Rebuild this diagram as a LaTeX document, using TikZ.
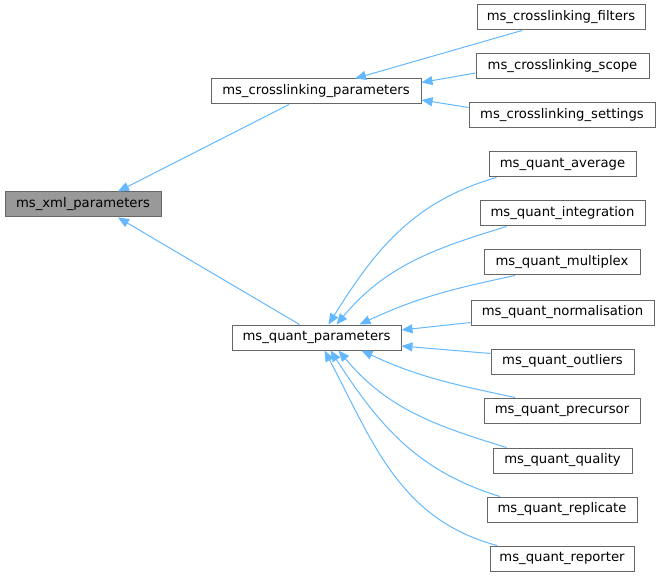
\documentclass[tikz,border=0pt]{standalone}
\usepackage{fontspec}
\setmainfont{DejaVu Sans}
\usetikzlibrary{arrows.meta}
\definecolor{edgec}{HTML}{63B8FF}
\definecolor{boxc}{HTML}{666666}
\definecolor{rootc}{HTML}{999999}
\tikzset{
  cls/.style={draw=boxc, line width=1pt, fill=white, minimum height=25pt, inner xsep=0pt, inner ysep=0pt, anchor=center, font=\fontsize{13.2}{15}\selectfont},
  rootcls/.style={cls, fill=rootc},
  edge/.style={draw=edgec, line width=1pt, -{Triangle[length=11pt,width=9pt]}}
}
\begin{document}
\begin{tikzpicture}[x=1pt,y=-1pt]
\useasboundingbox (0,0) rectangle (661,577);
\node[rootcls, minimum width=156pt] (xml) at (83,204.5) {ms\_xml\_parameters};
\node[cls, minimum width=210pt] (clp) at (316,91.5) {ms\_crosslinking\_parameters};
\node[cls, minimum width=168pt] (clf) at (561,17.5) {ms\_crosslinking\_filters};
\node[cls, minimum width=173pt] (cls) at (562.5,66.5) {ms\_crosslinking\_scope};
\node[cls, minimum width=186pt] (clset) at (562,115.5) {ms\_crosslinking\_settings};
\node[cls, minimum width=169pt] (qp) at (316.5,337.5) {ms\_quant\_parameters};
\node[cls, minimum width=147pt] (qavg) at (562.5,164.5) {ms\_quant\_average};
\node[cls, minimum width=165pt] (qint) at (562.5,213.5) {ms\_quant\_integration};
\node[cls, minimum width=156pt] (qmux) at (562,262.5) {ms\_quant\_multiplex};
\node[cls, minimum width=183pt] (qnorm) at (562.5,312.5) {ms\_quant\_normalisation};
\node[cls, minimum width=143pt] (qout) at (562.5,361.5) {ms\_quant\_outliers};
\node[cls, minimum width=156pt] (qpre) at (562,410.5) {ms\_quant\_precursor};
\node[cls, minimum width=139pt] (qqual) at (562.5,460.5) {ms\_quant\_quality};
\node[cls, minimum width=150pt] (qrep) at (562,509.5) {ms\_quant\_replicate};
\node[cls, minimum width=144pt] (qrpt) at (562,558.5) {ms\_quant\_reporter};
% crosslinking edges
\draw[edge] ([xshift=-27pt]clp.south) -- ([xshift=35pt]xml.north);
\draw[edge] ([xshift=-17pt]qp.north) -- ([xshift=35pt]xml.south);
\draw[edge] ([xshift=-39pt]clf.south) -- ([xshift=39pt]clp.north);
\draw[edge] ([yshift=-6.5pt]cls.west) -- ([yshift=9pt]clp.east);
\draw[edge] ([yshift=8pt]clset.west) -- ([yshift=-8.5pt]clp.east);
% quant edges
\draw[edge] ([xshift=-66pt]qavg.south) to[out=196,in=58] ([xshift=12pt]qp.north);
\draw[edge] ([xshift=-56pt]qint.south) to[out=197,in=50] ([xshift=20pt]qp.north);
\draw[edge] ([xshift=-47pt]qmux.south) to[out=192,in=25] ([xshift=43pt]qp.north);
\draw[edge] ([yshift=-10pt]qnorm.west) -- ([yshift=7.5pt]qp.east);
\draw[edge] ([yshift=8pt]qout.west) -- ([yshift=-8.5pt]qp.east);
\draw[edge] ([xshift=-47pt]qpre.north) to[out=168,in=-25] ([xshift=45pt]qp.south);
\draw[edge] ([xshift=-56pt]qqual.north) to[out=163,in=-50] ([xshift=22pt]qp.south);
\draw[edge] ([xshift=-62pt]qrep.north) to[out=163,in=-57] ([xshift=14pt]qp.south);
\draw[edge] ([xshift=-65pt]qrpt.north) to[out=165,in=-62] ([xshift=8pt]qp.south);
\end{tikzpicture}
\end{document}
